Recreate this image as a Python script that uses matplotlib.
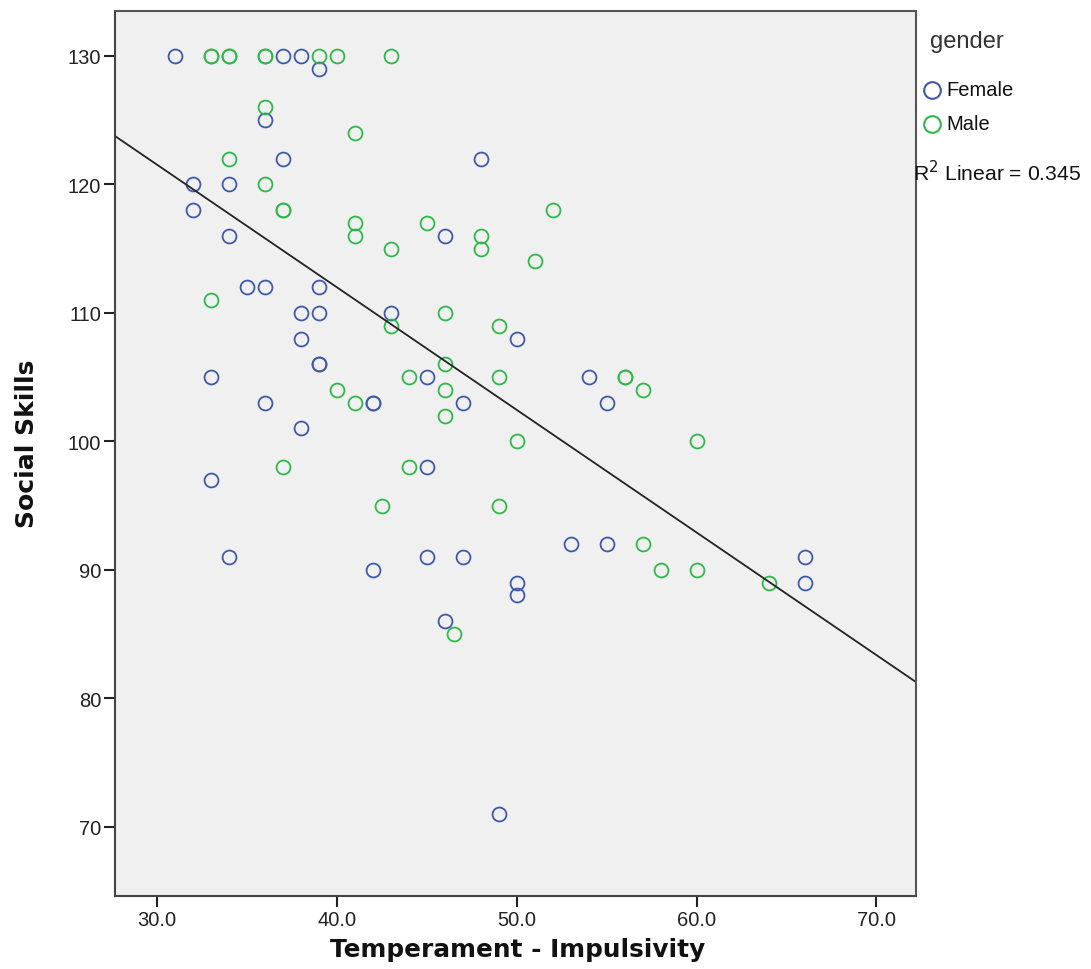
import numpy as np
import matplotlib
matplotlib.use("Agg")
import matplotlib.pyplot as plt
from matplotlib.lines import Line2D

plt.rcParams['font.family'] = ['Liberation Sans', 'DejaVu Sans']

female_x = [31, 37, 38, 39, 36, 37, 48, 32, 34, 32, 34, 46, 35, 36, 39, 38, 39, 43, 38, 50,
            39, 39, 33, 45, 54, 36, 42, 42, 47, 55, 38, 45, 33, 53, 55, 34, 45, 47, 66, 42,
            50, 66, 50, 46, 49]
female_y = [130, 130, 130, 129, 125, 122, 122, 120, 120, 118, 116, 116, 112, 112, 112, 110, 110, 110, 108, 108,
            106, 106, 105, 105, 105, 103, 103, 103, 103, 103, 101, 98, 97, 92, 92, 91, 91, 91, 91, 90,
            89, 89, 88, 86, 71]
male_x = [33, 33, 34, 34, 36, 36, 39, 40, 43, 36, 41, 34, 36, 37, 37, 52, 41, 45, 41, 48,
          43, 48, 51, 33, 46, 43, 49, 46, 44, 49, 56, 56, 40, 46, 57, 41, 46, 50, 60, 37,
          44, 42.5, 49, 57, 58, 60, 64, 46.5]
male_y = [130, 130, 130, 130, 130, 130, 130, 130, 130, 126, 124, 122, 120, 118, 118, 118, 117, 117, 116, 116,
          115, 115, 114, 111, 110, 109, 109, 106, 105, 105, 105, 105, 104, 104, 104, 103, 102, 100, 100, 98,
          98, 95, 95, 92, 90, 90, 89, 85]

x_ticks = [30, 40, 50, 60, 70]
y_ticks = [70, 80, 90, 100, 110, 120, 130]
group_labels = ['Female', 'Male']
r2_label = "R$^2$ Linear = 0.345"

female_color = "#3E58AC"
male_color = "#2EB848"

fig = plt.figure(figsize=(10.91, 9.70), dpi=100)
ax = fig.add_axes([0.1054, 0.0753, 0.7342, 0.9123])
ax.set_facecolor("#F0F0F0")

ax.plot(female_x, female_y, linestyle='none', marker='o', markersize=10,
        markerfacecolor='none', markeredgecolor=female_color, markeredgewidth=1.3)
ax.plot(male_x, male_y, linestyle='none', marker='o', markersize=10,
        markerfacecolor='none', markeredgecolor=male_color, markeredgewidth=1.3)

# fit line through all data
all_x = np.array(female_x + male_x, dtype=float)
all_y = np.array(female_y + male_y, dtype=float)
slope, intercept = np.polyfit(all_x, all_y, 1)
xlim = (27.66, 72.2)
xs = np.array(xlim)
ax.plot(xs, intercept + slope * xs, color='#222222', linewidth=1.3)

ax.set_xlim(*xlim)
ax.set_ylim(64.6, 133.5)
ax.set_xticks(x_ticks)
ax.set_xticklabels([f"{t:.1f}" for t in x_ticks])
ax.set_yticks(y_ticks)
ax.tick_params(axis='both', direction='out', length=8, width=1.5, labelsize=14.5,
               colors='#222222', pad=2)
for s in ax.spines.values():
    s.set_color('#555555')
    s.set_linewidth(1.5)
ax.spines['left'].set_color('#444444')
ax.spines['bottom'].set_color('#444444')

fig.text(518 / 1091, 1 - 950 / 970, "Temperament - Impulsivity", fontsize=17.8,
         fontweight='bold', family='DejaVu Sans', ha='center', va='center', color='#111111')
fig.text(27 / 1091, 1 - 444 / 970, "Social Skills", fontsize=18, rotation=90,
         fontweight='bold', family='DejaVu Sans', ha='center', va='center', color='#111111')

# legend
fig.text(930 / 1091, 1 - 42 / 970, "gender", fontsize=17, color='#333333', va='center', ha='left')
for i, (lab, col) in enumerate(zip(group_labels, [female_color, male_color])):
    yy = 1 - (91 + 34 * i) / 970
    fig.add_artist(Line2D([932 / 1091], [yy], transform=fig.transFigure, linestyle='none',
                          marker='o', markersize=12, markerfacecolor='none',
                          markeredgecolor=col, markeredgewidth=1.5))
    fig.text(946 / 1091, yy, lab, fontsize=14.5, color='#111111', va='center', ha='left')
fig.text(913 / 1091, 1 - 173 / 970, r2_label, fontsize=15.2, color='#111111', va='center', ha='left')

fig.savefig("out.png", dpi=100)
